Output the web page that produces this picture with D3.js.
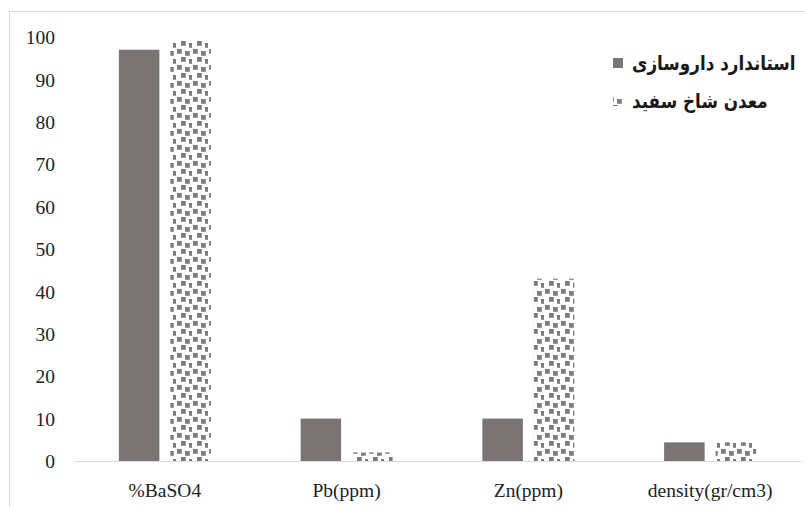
<!DOCTYPE html>
<html>
<head>
<meta charset="utf-8">
<script src="https://cdn.jsdelivr.net/npm/d3@7"></script>
<style>
  html, body { margin: 0; padding: 0; background: #ffffff; }
  svg { display: block; }
</style>
</head>
<body>
<script>
// ---- Data ----
const categories = ["%BaSO4", "Pb(ppm)", "Zn(ppm)", "density(gr/cm3)"];
const seriesNames = ["استاندارد داروسازی", "معدن شاخ سفید"];
const standardValues = [97, 10, 10, 4.4];
const mineValues = [99.3, 2, 43, 4.4];
const yTicks = [0, 10, 20, 30, 40, 50, 60, 70, 80, 90, 100];

const W = 805, H = 507;
const svg = d3.select("body").append("svg").attr("width", W).attr("height", H);
const serif = "'Liberation Serif', 'Times New Roman', serif";

// pattern
const defs = svg.append("defs");
const pat = defs.append("pattern").attr("id", "confetti")
  .attr("patternUnits", "userSpaceOnUse").attr("width", 16).attr("height", 16);
pat.append("rect").attr("width", 16).attr("height", 16).attr("fill", "#ffffff");
[[1,1],[9,3],[5,9],[13,11]].forEach(([px,py]) => {
  pat.append("rect").attr("x", px).attr("y", py).attr("width", 4.8).attr("height", 4.8).attr("fill", "#7f7b7a");
});

// border
svg.append("rect").attr("x", 9.5).attr("y", 11.5).attr("width", 900).attr("height", 600)
  .attr("fill", "none").attr("stroke", "#d9d9d9").attr("stroke-width", 1);

const x0 = d3.scaleBand().domain(categories).range([74, 801]).paddingInner(0).paddingOuter(0);
const groupW = 92;
const x1 = d3.scaleBand().domain([0, 1]).range([0, groupW]).paddingInner(0.2136).paddingOuter(0);
const y = d3.scaleLinear().domain([0, 100]).range([461, 37]);

// y axis labels
const yAxis = d3.axisLeft(y).tickValues(yTicks).tickSize(0).tickPadding(0);
const gy = svg.append("g").attr("transform", "translate(55,0)").call(yAxis);
gy.attr("font-family", serif);
gy.select(".domain").remove();
gy.selectAll("text").style("font-family", serif)
  .attr("font-size", 19.5).attr("fill", "#222").attr("dy", "0.34em");

// bars
const fills = ["#7a7574", "url(#confetti)"];
const seriesData = [standardValues, mineValues];
seriesData.forEach((vals, s) => {
  svg.append("g").selectAll("rect").data(vals).join("rect")
    .attr("x", (d, i) => x0(categories[i]) + (x0.bandwidth() - groupW) / 2 + x1(s))
    .attr("width", x1.bandwidth())
    .attr("y", d => y(d))
    .attr("height", d => y(0) - y(d))
    .attr("fill", fills[s]);
});

// x axis
const xAxis = d3.axisBottom(x0).tickSize(0).tickPadding(0);
const gx = svg.append("g").attr("transform", "translate(0,461)").call(xAxis);
gx.attr("font-family", serif);
gx.select(".domain").attr("stroke", "#d9d9d9").attr("stroke-width", 1.2);
gx.selectAll("text").style("font-family", serif)
  .attr("font-size", 19.5).attr("fill", "#222").attr("y", 36).attr("dy", 0);

// legend
const legend = svg.append("g");
seriesNames.forEach((name, i) => {
  const ly = 63 + i * 38;
  legend.append("rect").attr("x", 613).attr("y", ly - 5).attr("width", 10).attr("height", 10)
    .attr("fill", fills[i]);
  legend.append("text")
    .attr("transform", `translate(632,${ly + 7}) scale(0.84,1)`)
    .style("font-family", "'DejaVu Sans', 'Noto Sans', sans-serif")
    .attr("font-weight", "bold").attr("font-size", 20).attr("fill", "#1a1a1a")
    .text(name);
});
</script>
</body>
</html>
